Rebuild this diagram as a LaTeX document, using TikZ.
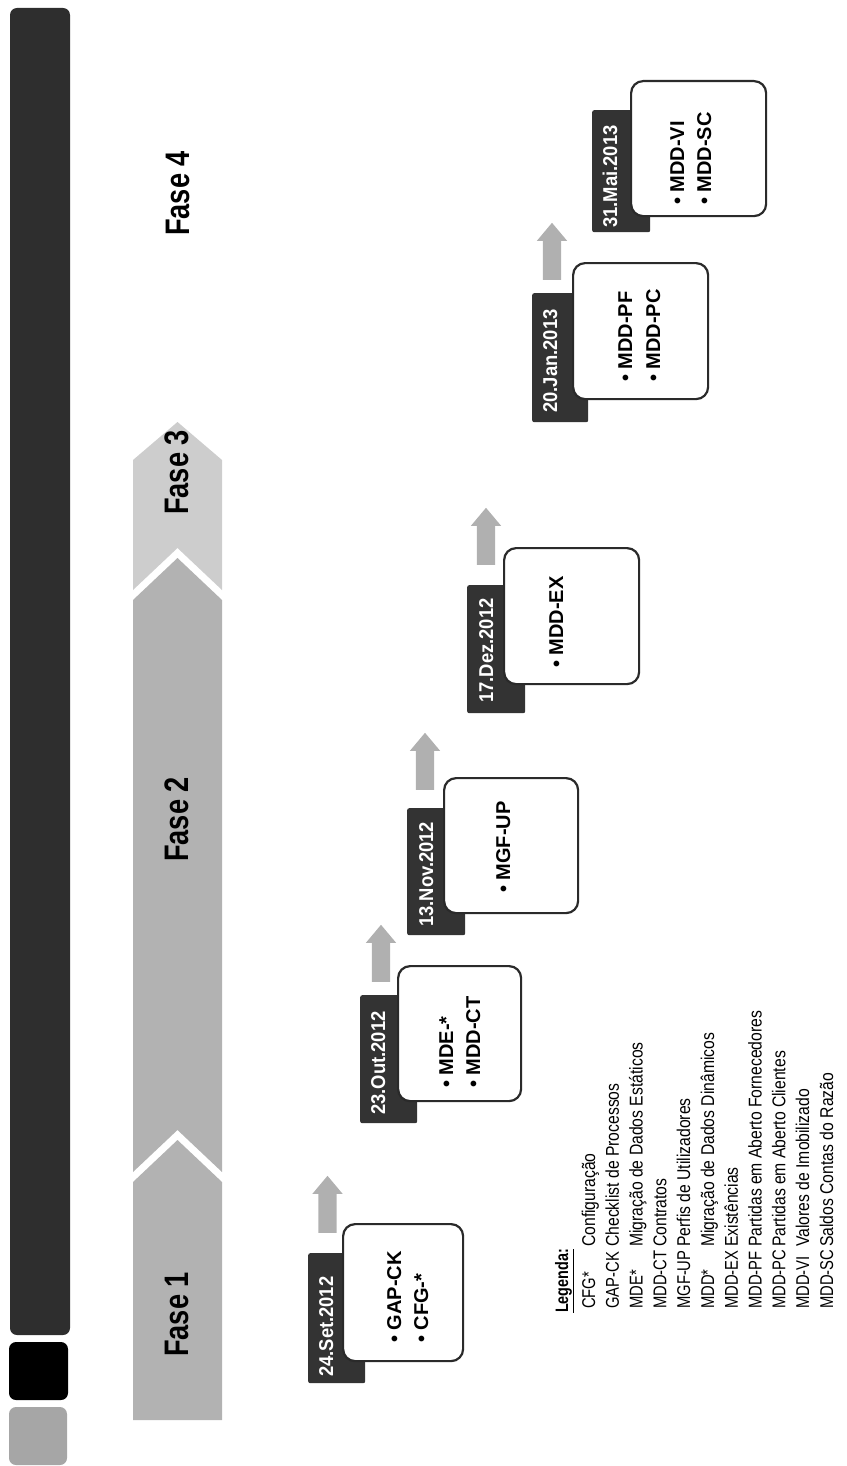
\documentclass[tikz,border=0pt]{standalone}
\usepackage{fontspec}
\usepackage{graphicx}
\setmainfont{Liberation Sans}
\usetikzlibrary{shapes.arrows}
\definecolor{bandA}{HTML}{B2B2B2}
\definecolor{bandB}{HTML}{CDCDCD}
\definecolor{barDark}{HTML}{2E2E2E}
\definecolor{barGray}{HTML}{A6A6A6}
\definecolor{tabGray}{HTML}{333333}
\definecolor{boxLine}{HTML}{2A2A2A}
\definecolor{arrowGray}{HTML}{B0B0B0}
\newcommand{\lgnarrow}[2]{\scalebox{#1}[1]{#2}}
\begin{document}
\begin{tikzpicture}[x=1pt,y=-1pt,
  tabbox/.style={fill=tabGray, draw=none, rounded corners=2pt, anchor=north west, inner sep=0pt},
  itembox/.style={fill=white, draw=boxLine, line width=2.2pt, rounded corners=12pt, anchor=north west, inner sep=0pt},
  tabtext/.style={rotate=90, anchor=base west, inner sep=0pt, text=white, font=\fontsize{20}{22}\selectfont\bfseries},
  itemtext/.style={rotate=90, anchor=base west, inner sep=0pt, font=\fontsize{20}{22}\selectfont\bfseries},
  uparrow/.style={shape=single arrow, fill=arrowGray, draw=none, rotate=90, anchor=tail,
    inner xsep=0pt, inner ysep=9pt, single arrow head extend=6pt, single arrow tip angle=80, minimum height=57pt},
  fasetext/.style={rotate=90, anchor=base west, inner sep=0pt, font=\fontsize{34}{36}\selectfont\bfseries},
  legtext/.style={rotate=90, anchor=base west, inner sep=0pt, font=\fontsize{18.5}{20}\selectfont}
]
\useasboundingbox (0,0) rectangle (846,1466);

% left bars
\fill[barDark, rounded corners=7pt] (10,8) rectangle (70,1335);
\fill[black, rounded corners=7pt] (9,1342) rectangle (68,1400);
\fill[barGray, rounded corners=7pt] (9,1407) rectangle (67,1465);

% chevron band
\fill[bandA] (133,1420) -- (222,1420) -- (222,1182) -- (177.5,1140) -- (133,1182) -- cycle;
\fill[bandA] (133,1172) -- (177.5,1130) -- (222,1172) -- (222,600) -- (177.5,558) -- (133,600) -- cycle;
\fill[bandB] (133,590) -- (177.5,548) -- (222,590) -- (222,460) -- (177.5,422) -- (133,460) -- cycle;

\node[fasetext] (f1) at (188,1357) {\lgnarrow{0.8}{Fase 1}};
\node[fasetext] (f2) at (188,862) {\lgnarrow{0.8}{Fase 2}};
\node[fasetext] (f3) at (188,515) {\lgnarrow{0.8}{Fase 3}};
\node[fasetext] (f4) at (189,236) {\lgnarrow{0.8}{Fase 4}};

% milestone 1
\node[uparrow] (a1) at (327.5,1233) {};
\node[tabbox, minimum width=57pt, minimum height=130pt] (t1) at (308,1253) {};
\node[itembox, minimum width=120pt, minimum height=137pt] (b1) at (342,1223) {};
\node[tabtext] (d1) at (333,1377) {\lgnarrow{0.92}{24.Set.2012}};
\node[itemtext] (i1a) at (401,1343) {\textbullet\ GAP-CK};
\node[itemtext] (i1b) at (428,1343) {\textbullet\ CFG-*};

% milestone 2
\node[uparrow] (a2) at (381,982) {};
\node[tabbox, minimum width=57pt, minimum height=128pt] (t2) at (360,995) {};
\node[itembox, minimum width=123pt, minimum height=135pt] (b2) at (397,965) {};
\node[tabtext] (d2) at (385,1115) {\lgnarrow{0.92}{23.Out.2012}};
\node[itemtext] (i2a) at (453,1088) {\textbullet\ MDE-*};
\node[itemtext] (i2b) at (480,1088) {\textbullet\ MDD-CT};

% milestone 3
\node[uparrow] (a3) at (425,790) {};
\node[tabbox, minimum width=58pt, minimum height=127pt] (t3) at (407,808) {};
\node[itembox, minimum width=134pt, minimum height=135pt] (b3) at (443,777) {};
\node[tabtext] (d3) at (433,927) {\lgnarrow{0.92}{13.Nov.2012}};
\node[itemtext] (i3a) at (510,893) {\textbullet\ MGF-UP};

% milestone 4
\node[uparrow] (a4) at (486,565) {};
\node[tabbox, minimum width=58pt, minimum height=128pt] (t4) at (467,585) {};
\node[itembox, minimum width=135pt, minimum height=136pt] (b4) at (503,547) {};
\node[tabtext] (d4) at (493,703) {\lgnarrow{0.92}{17.Dez.2012}};
\node[itemtext] (i4a) at (563,668) {\textbullet\ MDD-EX};

% milestone 5
\node[uparrow] (a5) at (552,280) {};
\node[tabbox, minimum width=56pt, minimum height=129pt] (t5) at (532,293) {};
\node[itembox, minimum width=135pt, minimum height=136pt] (b5) at (572,262) {};
\node[tabtext] (d5) at (557,413) {\lgnarrow{0.92}{20.Jan.2013}};
\node[itemtext] (i5a) at (632,382) {\textbullet\ MDD-PF};
\node[itemtext] (i5b) at (660,382) {\textbullet\ MDD-PC};

% milestone 6
\node[tabbox, minimum width=58pt, minimum height=122pt] (t6) at (592,110) {};
\node[itembox, minimum width=135pt, minimum height=135pt] (b6) at (630,80) {};
\node[tabtext] (d6) at (617,228) {\lgnarrow{0.92}{31.Mai.2013}};
\node[itemtext] (i6a) at (684,205) {\textbullet\ MDD-VI};
\node[itemtext] (i6b) at (711,205) {\textbullet\ MDD-SC};

% legend
\node[legtext, font=\fontsize{18}{20}\selectfont\bfseries] (lg) at (568,1313) {\lgnarrow{0.8}{\underline{Legenda:}}};
\foreach \c/\d [count=\i from 0] in {CFG*/Configuração, GAP-CK/Checklist de Processos, MDE*/Migração de Dados Estáticos, MDD-CT/Contratos, MGF-UP/Perfis de Utilizadores, MDD*/Migração de Dados Dinâmicos, MDD-EX/Existências, MDD-PF/Partidas em Aberto Fornecedores, MDD-PC/Partidas em Aberto Clientes, MDD-VI/Valores de Imobilizado, MDD-SC/Saldos Contas do Razão}{
  \node[legtext] (lc\i) at (595+23.8*\i,1309) {\lgnarrow{0.8}{\c}};
  \node[legtext] (ld\i) at (595+23.8*\i,1247) {\lgnarrow{0.85}{\d}};
}
\end{tikzpicture}
\end{document}
